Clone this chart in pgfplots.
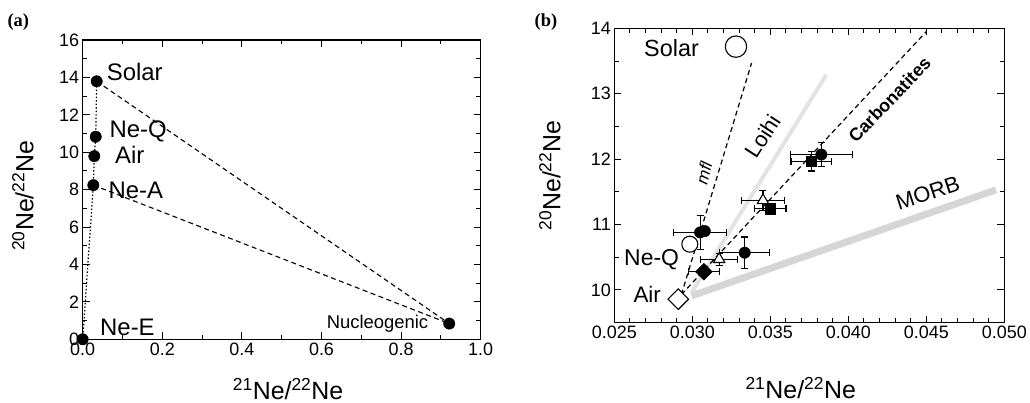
\documentclass[border=0pt]{standalone}
\usepackage{fontspec}
\setmainfont{Liberation Sans}
\newfontfamily\seriffont{Liberation Serif}
\usepackage{pgfplots}
\pgfplotsset{compat=1.18}
\pgfplotsset{
  common/.style={
    scale only axis, anchor=south west, clip=false,
    axis line style={line width=1.2bp},
    tick style={black, line width=1bp},
    major tick length=7bp, minor tick length=4.5bp,
    tick align=inside,
    xtick pos=both, ytick pos=both,
    /pgf/number format/assume math mode=true,
    tick label style={font=\fontsize{18}{18}\selectfont},
    label style={font=\fontsize{25}{25}\selectfont, inner sep=1bp},
  },
}
\begin{document}
\begin{tikzpicture}
\path[use as bounding box] (0,0) rectangle (1030bp,403bp);
\node[font=\seriffont\bfseries\fontsize{18.5}{18.5}\selectfont] at (18.3bp,381.3bp) {(a)};
\node[font=\seriffont\bfseries\fontsize{18.5}{18.5}\selectfont] at (546bp,381.3bp) {(b)};

% ---------------- panel (a)
\begin{axis}[common,
  at={(82.7bp,63.7bp)}, width=398bp, height=299.3bp,
  xmin=0, xmax=1, ymin=0, ymax=16,
  xtick={0,0.2,0.4,0.6,0.8,1.0}, minor x tick num=1,
  ytick={0,2,...,16}, minor y tick num=1,
  xticklabel style={/pgf/number format/.cd, fixed, fixed zerofill, precision=1},
  xlabel={\textsuperscript{21}Ne/\textsuperscript{22}Ne},
  ylabel={\textsuperscript{20}Ne/\textsuperscript{22}Ne},
  xlabel style={at={(axis description cs:0.516,-0.166)}, anchor=center},
  ylabel style={at={(axis description cs:-0.150,0.48)}, anchor=center},
]
\addplot[black, line width=1.2bp, dash pattern=on 1.5bp off 2bp] coordinates {
 (0,0) (0.0267,8.24) (0.0292,9.79) (0.0327,10.83) (0.0352,13.79)};
\addplot[black, line width=1.1bp, dash pattern=on 5bp off 3.5bp] coordinates {
 (0.0352,13.79) (0.921,0.84)};
\addplot[black, line width=1.1bp, dash pattern=on 5bp off 3.5bp] coordinates {
 (0.0267,8.24) (0.921,0.84)};
\addplot[only marks, mark=*, mark size=5.7bp, black] coordinates {
 (0,0) (0.0267,8.24) (0.0292,9.79) (0.0327,10.83) (0.0352,13.79) (0.921,0.84)};
\begin{scope}[font=\fontsize{24}{24}\selectfont]
\node[anchor=west] at (axis cs:0.0518,14.30) {Solar};
\node[anchor=west] at (axis cs:0.0585,11.09) {Ne-Q};
\node[anchor=west] at (axis cs:0.0729,9.84) {Air};
\node[anchor=west] at (axis cs:0.056,7.97) {Ne-A};
\node[anchor=west] at (axis cs:0.0352,0.66) {Ne-E};
\end{scope}
\node[anchor=east, font=\fontsize{18.5}{18.5}\selectfont] at (axis cs:0.877,0.84) {Nucleogenic};
\end{axis}

% ---------------- panel (b)
\begin{axis}[common,
  at={(614.3bp,80.3bp)}, width=390bp, height=294.4bp,
  xmin=0.025, xmax=0.050, ymin=9.5, ymax=14,
  xtick={0.025,0.030,0.035,0.040,0.045,0.050}, minor x tick num=4,
  ytick={10,11,12,13,14}, minor y tick num=1,
  xticklabel style={/pgf/number format/.cd, fixed, fixed zerofill, precision=3},
  scaled x ticks=false,
  xlabel={\textsuperscript{21}Ne/\textsuperscript{22}Ne},
  ylabel={\textsuperscript{20}Ne/\textsuperscript{22}Ne},
  xlabel style={at={(axis description cs:0.478,-0.222)}, anchor=center},
  ylabel style={at={(axis description cs:-0.165,0.5)}, anchor=center},
]
% grey bands
\addplot[gray!22, line width=4bp] coordinates {(0.02995,9.96) (0.03859,13.29)};
\addplot[gray!32, line width=7bp] coordinates {(0.02995,9.91) (0.04947,11.53)};
% dashed lines
\addplot[black, line width=1.2bp, dash pattern=on 5bp off 3.5bp] coordinates {(0.0293,9.93) (0.0338,13.47)};
\addplot[black, line width=1.2bp, dash pattern=on 5bp off 3.5bp] coordinates {(0.0293,9.93) (0.0450,13.95)};
% open reference markers
\addplot[only marks, mark=*, mark size=10.7bp, mark options={fill=white, draw=black, line width=1.1bp}] coordinates {(0.0328,13.72)};
\addplot[only marks, mark=*, mark size=8bp, mark options={fill=white, draw=black, line width=1.1bp}] coordinates {(0.02984,10.70)};
\addplot[only marks, mark=square*, mark size=7.3bp, mark options={rotate=45, fill=white, draw=black, line width=1.1bp}] coordinates {(0.02910,9.86)};
% samples with error bars
\pgfplotsset{ebar/.style={error bars/.cd, x dir=both, x explicit, y dir=both, y explicit,
  error bar style={line width=1.2bp, black},
  error mark options={rotate=90, mark size=3.5bp, line width=1.2bp, black}}}
\addplot[only marks, mark=triangle*, mark size=6.5bp, mark options={fill=white, draw=black, line width=1.1bp}, ebar]
 table[x=x, y=y, x error=ex, y error=ey] {
x y ex ey
0.03172 10.47 0.0012 0.09
0.03453 11.37 0.0014 0.15
};
\addplot[only marks, mark=square*, mark size=6bp, mark options={rotate=45, fill=black}, ebar]
 table[x=x, y=y, x error=ex, y error=ey] {
x y ex ey
0.03074 10.28 0.0010 0.06
};
\addplot[only marks, mark=square*, mark size=5.2bp, mark options={fill=black}, ebar]
 table[x=x, y=y, x error=ex, y error=ey] {
x y ex ey
0.0350 11.24 0.0010 0.06
0.03763 11.97 0.0013 0.15
};
\addplot[only marks, mark=*, mark size=5.7bp, mark options={fill=black}, ebar]
 table[x=x, y=y, x error=ex, y error=ey] {
x y ex ey
0.0305 10.88 0.0017 0.26
0.0308 10.90 0.0 0.0
0.03336 10.57 0.0016 0.24
0.03827 12.07 0.0020 0.18
};
% labels
\node[font=\fontsize{23.5}{23.5}\selectfont] at (axis cs:0.02867,13.70) {Solar};
\node[font=\fontsize{23}{23}\selectfont] at (axis cs:0.02739,10.47) {Ne-Q};
\node[font=\fontsize{22.5}{22.5}\selectfont] at (axis cs:0.02711,9.93) {Air};
\node[font=\fontsize{22}{22}\selectfont, rotate=57, inner sep=0pt] at (axis cs:0.03453,12.35) {Loihi};
\node[font=\itshape\fontsize{17}{17}\selectfont, rotate=76, inner sep=0pt] at (axis cs:0.03074,11.79) {mfl};
\node[font=\bfseries\fontsize{18}{18}\selectfont, rotate=46, inner sep=0pt] at (axis cs:0.04264,12.91) {Carbonatites};
\node[font=\fontsize{22}{22}\selectfont, rotate=18, inner sep=0pt] at (axis cs:0.04509,11.48) {MORB};
\end{axis}
\end{tikzpicture}
\end{document}
